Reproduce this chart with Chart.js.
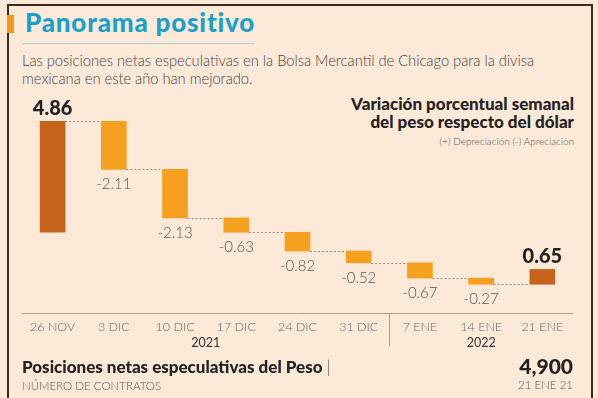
<!DOCTYPE html>
<html>
<head>
<meta charset="utf-8">
<script src="https://cdn.jsdelivr.net/npm/chart.js@4.4.1/dist/chart.umd.min.js"></script>
<style>
  html, body { margin: 0; padding: 0; }
  body { width: 598px; height: 398px; overflow: hidden; background: #fde9d8; position: relative; font-family: Lato, sans-serif; }
  .marco { position: absolute; left: 7px; top: 4px; width: 586px; height: 430px; border: 2.5px solid #3b2a20; box-sizing: border-box; }
  .marca { position: absolute; left: 7px; top: 15px; width: 7px; height: 18px; background: #f39a1c; }
  .titulo { position: absolute; left: 25px; top: 6px; font-size: 26px; font-weight: 900; color: #1ba0c8; letter-spacing: 0.8px; }
  .linea { position: absolute; left: 22px; top: 43px; width: 233px; height: 1px; background: #a6d3d9; }
  .sub { position: absolute; left: 22px; top: 51px; font-size: 14.7px; line-height: 18px; color: #444; font-weight: 300; }
  .encabezado { position: absolute; right: 24px; top: 95px; text-align: right; color: #222; }
  .encabezado b { display: block; font-size: 17px; font-weight: 900; line-height: 18px; }
  .encabezado span { display: block; font-size: 10px; color: #555; margin-top: 4px; font-weight: 300; }
  .pie { position: absolute; left: 22px; top: 356px; color: #222; }
  .pie b { display: block; font-size: 17px; font-weight: 900; }
  .pie span { display: block; font-size: 11.5px; color: #555; margin-top: 2px; font-weight: 300; }
  .total { position: absolute; right: 25px; top: 353px; text-align: right; color: #222; }
  .total b { display: block; font-size: 21px; font-weight: 900; }
  .total span { display: block; font-size: 11.5px; color: #555; font-weight: 300; }
  canvas { position: absolute; left: 0; top: 0; }
</style>
</head>
<body>
<div class="marco"></div>
<div class="marca"></div>
<div class="titulo">Panorama positivo</div>
<div class="linea"></div>
<div class="sub">Las posiciones netas especulativas en la Bolsa Mercantil de Chicago para la divisa<br>mexicana en este año han mejorado.</div>
<div class="encabezado"><b>Variación porcentual semanal</b><b>del peso respecto del dólar</b><span>(+) Depreciación (-) Apreciación</span></div>
<canvas id="grafica" width="598" height="398"></canvas>
<div class="pie"><b>Posiciones netas especulativas del Peso <span style="display:inline;font-size:17px;font-weight:300;color:#555">|</span></b><span>NÚMERO DE CONTRATOS</span></div>
<div class="total"><b>4,900</b><span>21 ENE 21</span></div>
<script>
var semanas = ['26 NOV', '3 DIC', '10 DIC', '17 DIC', '24 DIC', '31 DIC', '7 ENE', '14 ENE', '21 ENE'];
var variacion = [4.86, -2.11, -2.13, -0.63, -0.82, -0.52, -0.67, -0.27, 0.65];
var etiquetas = ['4.86', '-2.11', '-2.13', '-0.63', '-0.82', '-0.52', '-0.67', '-0.27', '0.65'];
var anios = [{ texto: '2021', desde: 0, hasta: 5 }, { texto: '2022', desde: 6, hasta: 8 }];

// barras flotantes (cascada)
var acumulado = 0;
var tramos = [];
variacion.forEach(function (v) {
    tramos.push([acumulado, acumulado + v]);
    acumulado += v;
});
var colores = variacion.map(function (v, i) {
    return (i === 0 || i === variacion.length - 1) ? '#c5621b' : '#f5a01e';
});

var extras = {
    id: 'extras',
    afterDatasetsDraw: function (chart) {
        var ctx = chart.ctx;
        var x = chart.scales.x;
        var y = chart.scales.y;
        var meta = chart.getDatasetMeta(0);
        var area = chart.chartArea;
        ctx.save();

        // lineas punteadas entre barras
        ctx.strokeStyle = '#9a8c80';
        ctx.lineWidth = 1;
        ctx.setLineDash([2, 2]);
        for (var i = 0; i < meta.data.length - 1; i++) {
            var b = meta.data[i], n = meta.data[i + 1];
            var yy = Math.round(y.getPixelForValue(tramos[i][1])) + 0.5;
            ctx.beginPath();
            ctx.moveTo(b.x + b.width / 2, yy);
            ctx.lineTo(n.x - n.width / 2, yy);
            ctx.stroke();
        }
        ctx.setLineDash([]);

        // valores
        ctx.textAlign = 'center';
        ctx.textBaseline = 'middle';
        meta.data.forEach(function (b, i) {
            var v = variacion[i];
            if (v > 0) {
                ctx.font = '900 20px Lato';
                ctx.fillStyle = '#222';
                ctx.fillText(etiquetas[i], b.x, y.getPixelForValue(tramos[i][1]) - 13);
            } else {
                ctx.font = '300 15px Lato';
                ctx.fillStyle = '#555';
                ctx.fillText(etiquetas[i], b.x, y.getPixelForValue(tramos[i][1]) + 15);
            }
        });

        // eje x
        ctx.strokeStyle = '#a89888';
        ctx.lineWidth = 1;
        ctx.beginPath();
        ctx.moveTo(area.left, area.bottom + 0.5);
        ctx.lineTo(area.right, area.bottom + 0.5);
        ctx.stroke();
        var sep = Math.round((x.getPixelForValue(5) + x.getPixelForValue(6)) / 2) + 0.5;
        ctx.beginPath();
        ctx.moveTo(sep, area.bottom);
        ctx.lineTo(sep, area.bottom + 33);
        ctx.stroke();

        ctx.font = '300 12.5px Lato';
        ctx.fillStyle = '#666';
        semanas.forEach(function (s, i) {
            ctx.fillText(s, x.getPixelForValue(i), area.bottom + 14);
        });
        ctx.font = '400 12.5px Lato';
        ctx.fillStyle = '#333';
        anios.forEach(function (a) {
            var cx = (x.getPixelForValue(a.desde) + x.getPixelForValue(a.hasta)) / 2;
            ctx.fillText(a.texto, cx, area.bottom + 30);
        });
        ctx.restore();
    }
};

new Chart(document.getElementById('grafica'), {
    type: 'bar',
    data: {
        labels: semanas,
        datasets: [{
            data: tramos,
            backgroundColor: colores,
            borderWidth: 0,
            barThickness: 25
        }]
    },
    options: {
        responsive: false,
        animation: false,
        layout: { padding: { left: 22, right: 25, top: 95, bottom: 85 } },
        plugins: { legend: { display: false }, tooltip: { enabled: false } },
        scales: {
            x: { display: false },
            y: { display: false, min: -3.55, max: 6.01 }
        }
    },
    plugins: [extras]
});
</script>
</body>
</html>
